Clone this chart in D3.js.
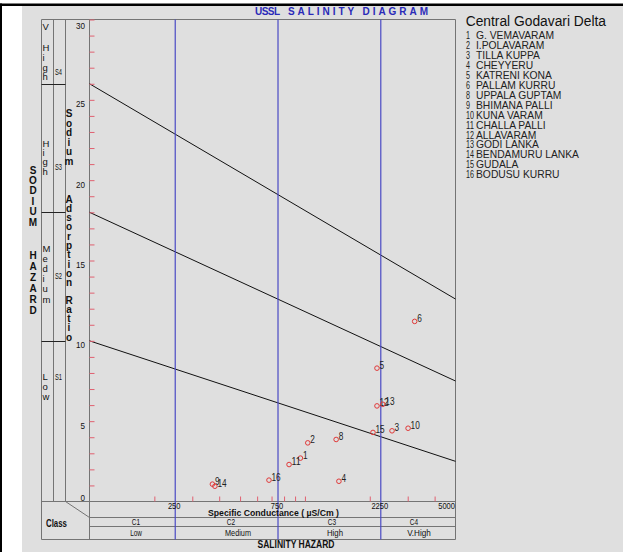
<!DOCTYPE html>
<html><head><meta charset="utf-8">
<script src="https://cdn.jsdelivr.net/npm/d3@7"></script>
<style>body{margin:0;background:#fff}svg{display:block}text{font-family:"Liberation Sans",Arial,sans-serif}</style>
</head><body>
<script>
// ---------- data ----------
const siteIds = [1,2,3,4,5,6,8,9,10,11,12,13,14,15,16];
const siteNames = ["G. VEMAVARAM","I.POLAVARAM","TILLA KUPPA","CHEYYERU","KATRENI KONA","PALLAM KURRU","UPPALA GUPTAM","BHIMANA PALLI","KUNA VARAM","CHALLA PALLI","ALLAVARAM","GODI LANKA","BENDAMURU LANKA","GUDALA","BODUSU KURRU"];
const ecValues  = [953,1031,2537,1438,2160,3232,1396,372,3012,844,2160,2299,382,2070,681];
const sarValues = [2.70,3.65,4.40,1.26,8.30,11.21,3.86,1.08,4.56,2.30,5.95,6.05,0.95,4.30,1.33];
const ecClassBounds = [250,750,2250];
const ecTickLabels = [250,750,2250,5000];
const ecMinorTicks = [200,300,400,500,600,700,800,900,1000,2000,3000,4000];
const sarTickLabels = [0,5,10,15,20,25,30];
const sarMinorTicks = d3.range(1,31);
const boundarySarAt100  = [10,18,26];
const boundarySarAt5000 = [2.5,7.5,12.6];
const salinityClasses = ["C1","C2","C3","C4"];
const salinityNames = ["Low","Medium","High","V.High"];
const sodiumClasses = ["S1","S2","S3","S4"];

// ---------- layout ----------
const W = 623, H = 552;
const svg = d3.select("body").append("svg").attr("width", W).attr("height", H);
svg.append("rect").attr("x",0).attr("y",0).attr("width",W).attr("height",H).attr("fill","#fff");
svg.append("rect").attr("x",22).attr("y",6).attr("width",W-22).attr("height",H-6).attr("fill","#dfdfdf");
svg.append("rect").attr("x",0).attr("y",3.5).attr("width",W).attr("height",2.5).attr("fill","#000");
svg.append("rect").attr("x",0).attr("y",3.5).attr("width",2).attr("height",H).attr("fill","#000");

const x = d3.scaleLog().domain([100,5000]).range([89.5,455.5]);
const y = d3.scaleLinear().domain([0,30]).range([501.5,19.5]);

const frame = "#747474";
const g = svg.append("g");
function line(x1,y1,x2,y2,col,w){ g.append("line").attr("x1",x1).attr("y1",y1).attr("x2",x2).attr("y2",y2).attr("stroke",col||frame).attr("stroke-width",w||1); }

// frame lines
line(41.5,19.5,455.5,19.5);
line(455.5,19.5,455.5,539.5);
line(41.5,19.5,41.5,539.5);
line(53.5,19.5,53.5,501.5);
line(65.5,19.5,65.5,501.5);
line(89.5,19.5,89.5,539.5);
line(41.5,501.5,455.5,501.5);
line(65.5,501.5,89.5,517.5);
line(89.5,517.5,455.5,517.5);
line(89.5,526.5,455.5,526.5);
line(41.5,539.5,455.5,539.5);
// sodium class boundaries in left columns
[10,18,26].forEach(v=>line(41.5,Math.round(y(v))+0.5,65.5,Math.round(y(v))+0.5,"#222"));

// minor ticks (red)
const yAx = svg.append("g").attr("transform","translate(89.5,0)")
  .call(d3.axisRight(y).tickValues(sarMinorTicks).tickSize(5).tickFormat(""));
yAx.select(".domain").remove();
yAx.selectAll("line").attr("stroke","#e06070");
const xAx = svg.append("g").attr("transform","translate(0,501.5)")
  .call(d3.axisTop(x).tickValues(ecMinorTicks).tickSize(5).tickFormat(""));
xAx.select(".domain").remove();
xAx.selectAll("line").attr("stroke","#e06070");

// boundary lines
boundarySarAt100.forEach((v,i)=>{
  line(x(100),y(v),x(5000),y(boundarySarAt5000[i]),"#111");
});

// blue class lines
ecClassBounds.forEach(v=>line(x(v),19.5,x(v),539.5,"#4a4ac4",1.2));

// y labels
sarTickLabels.forEach(v=>{
  const cy = v===0 ? y(v)-4 : (v===30 ? y(v)+5.5 : y(v)+4);
  g.append("text").attr("x",85).attr("y",cy+3.5).attr("text-anchor","end")
   .attr("font-size",9.5).attr("fill","#111")
   .attr("textLength",String(v).length*4.5).attr("lengthAdjust","spacingAndGlyphs").text(v);
});
// x labels
ecTickLabels.forEach(v=>{
  const s = String(v);
  const t = g.append("text").attr("y",508.5).attr("font-size",9).attr("fill","#111")
   .attr("textLength",s.length*4.2).attr("lengthAdjust","spacingAndGlyphs").text(s);
  if (v===5000) t.attr("x",455).attr("text-anchor","end");
  else t.attr("x",x(v)-1).attr("text-anchor","middle");
});

g.append("text").attr("x",273.5).attr("y",516).attr("text-anchor","middle")
 .attr("font-size",9.5).attr("font-weight","bold").attr("fill","#111")
 .attr("textLength",131).attr("lengthAdjust","spacingAndGlyphs").text("Specific Conductance ( µS/Cm )");

// salinity class labels
const cPos = [136,231,332,414], nPos=[136,238,335,419];
const cW = [8.3,8.3,8.3,8.3], nW=[11.7,26,16,23.7];
salinityClasses.forEach((c,i)=>{
  g.append("text").attr("x",cPos[i]).attr("y",525.3).attr("text-anchor","middle").attr("font-size",9.5).attr("fill","#111")
   .attr("textLength",cW[i]).attr("lengthAdjust","spacingAndGlyphs").text(c);
  g.append("text").attr("x",nPos[i]).attr("y",536).attr("text-anchor","middle").attr("font-size",9.5).attr("fill","#111")
   .attr("textLength",nW[i]).attr("lengthAdjust","spacingAndGlyphs").text(salinityNames[i]);
});
g.append("text").attr("x",296).attr("y",548).attr("text-anchor","middle")
 .attr("font-size",10).attr("font-weight","bold").attr("fill","#111")
 .attr("textLength",77).attr("lengthAdjust","spacingAndGlyphs").text("SALINITY HAZARD");
g.append("text").attr("x",56.5).attr("y",527).attr("text-anchor","middle")
 .attr("font-size",10).attr("font-weight","bold").attr("fill","#111")
 .attr("textLength",21).attr("lengthAdjust","spacingAndGlyphs").text("Class");

// stacked text helper
function stack(str,x0,y0,step,opt){
  let yy=y0;
  for (const ch of str){
    if (ch!==" "){
      g.append("text").attr("x",x0).attr("y",yy).attr("text-anchor",opt.anchor||"start")
       .attr("font-size",opt.size).attr("font-weight",opt.bold?"bold":"normal").attr("fill","#111").text(ch);
    }
    yy+=step;
  }
}
stack("SODIUM",33,173.5,10.4,{size:10,bold:true,anchor:"middle"});
stack("HAZARD",33,259,11,{size:10,bold:true,anchor:"middle"});
stack("Sodium",69,117,9.6,{size:10,bold:true,anchor:"middle"});
stack("Adsorption",69,202.5,9.3,{size:10,bold:true,anchor:"middle"});
stack("Ratio",69,303.5,9.3,{size:10,bold:true,anchor:"middle"});
// sodium class name columns
stack("V",42.5,30,9,{size:9.5});
stack("High",42.5,51,9.8,{size:9.5});
stack("High",42.5,147,9.2,{size:9.5});
stack("Medium",42.5,251.5,10.2,{size:9.5});
stack("Low",42.5,379.5,10.3,{size:9.5});
const sPos = [379.5,278.5,170,75];
sodiumClasses.forEach((s,i)=>{
  g.append("text").attr("x",55).attr("y",sPos[i]).attr("font-size",9.5).attr("fill","#111")
   .attr("textLength",7).attr("lengthAdjust","spacingAndGlyphs").text(s);
});

// title
g.append("text").attr("x",255).attr("y",15).attr("font-size",10).attr("font-weight","bold").attr("fill","#2a2ab8")
 .attr("textLength",25).attr("lengthAdjust","spacing").text("USSL");
g.append("text").attr("x",288).attr("y",15).attr("font-size",10).attr("font-weight","bold").attr("fill","#2a2ab8")
 .attr("textLength",140).attr("lengthAdjust","spacing").text("SALINITY DIAGRAM");

// points
const pts = svg.append("g");
siteIds.forEach((id,i)=>{
  const cx = x(ecValues[i]), cy = y(sarValues[i]);
  pts.append("circle").attr("cx",cx).attr("cy",cy).attr("r",2.3).attr("fill","none").attr("stroke","#e03838").attr("stroke-width",1);
  const s = String(id);
  pts.append("text").attr("x",cx+2.5).attr("y",cy+0.5).attr("font-size",10).attr("fill","#222")
   .attr("textLength",s.length*4.6).attr("lengthAdjust","spacingAndGlyphs").text(s);
});

// legend
g.append("text").attr("x",465.7).attr("y",26.3).attr("font-size",13.8).attr("fill","#111").text("Central Godavari Delta");
siteIds.forEach((id,i)=>{
  const by = 39 + 9.95*i;
  const s = String(id);
  g.append("text").attr("x",466).attr("y",by).attr("font-size",10).attr("fill","#222")
   .attr("textLength",s.length*4).attr("lengthAdjust","spacingAndGlyphs").text(s);
  g.append("text").attr("x",476).attr("y",by).attr("font-size",10.3).attr("fill","#222").text(siteNames[i]);
});
</script>
</body></html>
